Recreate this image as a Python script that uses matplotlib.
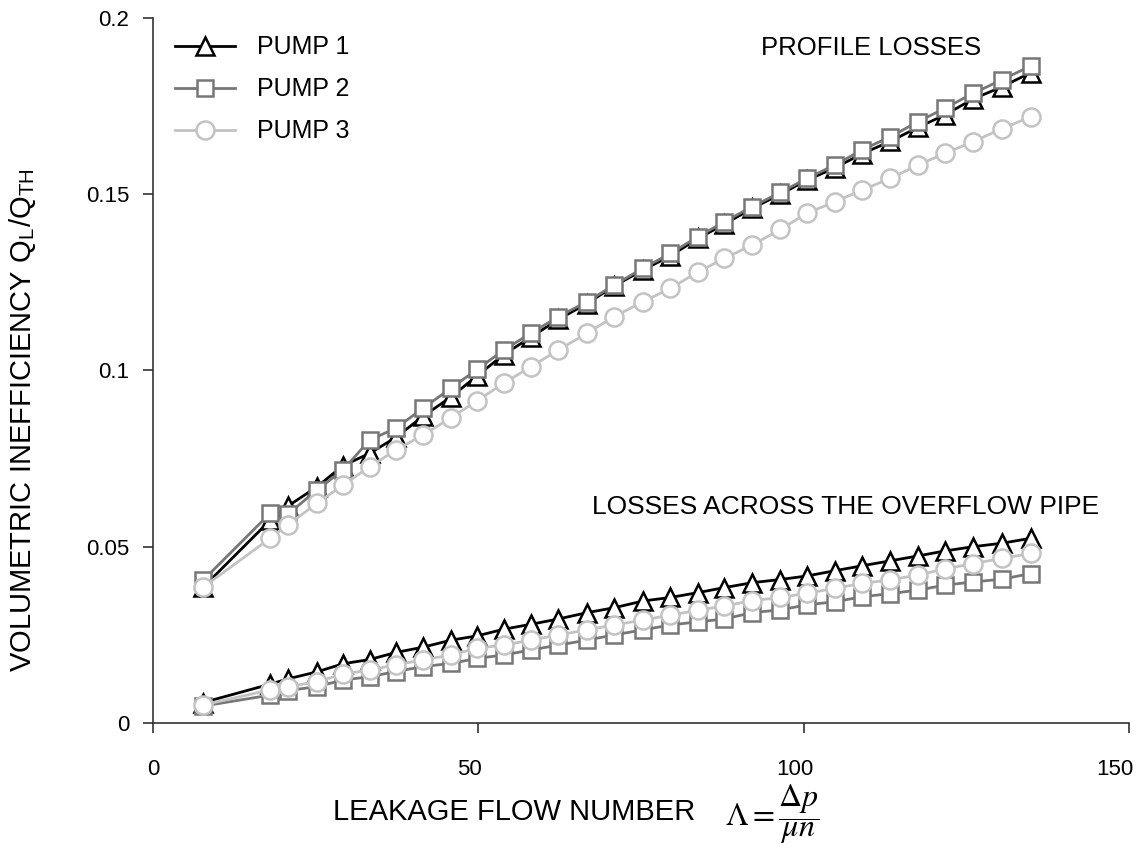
import matplotlib
matplotlib.use("Agg")
import matplotlib.pyplot as plt
from matplotlib.lines import Line2D
from matplotlib.transforms import ScaledTranslation

plt.rcParams["font.family"] = ["Liberation Sans", "DejaVu Sans"]
plt.rcParams["mathtext.fontset"] = "stix"

# leakage flow number (same for every series)
lam = [7.7, 18.0, 20.7, 25.2, 29.2, 33.3, 37.3, 41.5, 45.8, 49.8,
       53.9, 58.1, 62.3, 66.7, 70.9, 75.3, 79.5, 83.8, 87.8, 92.1,
       96.4, 100.5, 104.8, 109.0, 113.3, 117.6, 121.7, 126.0, 130.5, 134.9]

# profile losses
prof_p1 = [0.0385, 0.0575, 0.0615, 0.0670, 0.0730, 0.0765, 0.0810, 0.0870, 0.0925, 0.0985,
           0.1045, 0.1095, 0.1145, 0.1190, 0.1240, 0.1285, 0.1325, 0.1375, 0.1415, 0.1460,
           0.1500, 0.1540, 0.1575, 0.1615, 0.1650, 0.1690, 0.1725, 0.1770, 0.1805, 0.1845]
prof_p2 = [0.0405, 0.0595, 0.0592, 0.0661, 0.0718, 0.0803, 0.0836, 0.0893, 0.0950, 0.1003,
           0.1058, 0.1106, 0.1153, 0.1195, 0.1243, 0.1290, 0.1332, 0.1380, 0.1422, 0.1465,
           0.1505, 0.1545, 0.1583, 0.1626, 0.1663, 0.1706, 0.1744, 0.1786, 0.1825, 0.1864]
prof_p3 = [0.0385, 0.0524, 0.0562, 0.0623, 0.0675, 0.0727, 0.0774, 0.0817, 0.0866, 0.0914,
           0.0964, 0.1011, 0.1058, 0.1106, 0.1153, 0.1195, 0.1233, 0.1280, 0.1318, 0.1356,
           0.1400, 0.1446, 0.1479, 0.1512, 0.1545, 0.1583, 0.1616, 0.1649, 0.1686, 0.1720]

# losses across the overflow pipe
over_p1 = [0.0058, 0.0110, 0.0125, 0.0145, 0.0168, 0.0180, 0.0200, 0.0215, 0.0235, 0.0247,
           0.0266, 0.0280, 0.0295, 0.0313, 0.0327, 0.0346, 0.0356, 0.0370, 0.0384, 0.0398,
           0.0407, 0.0417, 0.0432, 0.0446, 0.0460, 0.0474, 0.0488, 0.0500, 0.0510, 0.0524]
over_p2 = [0.0048, 0.0079, 0.0092, 0.0103, 0.0122, 0.0131, 0.0146, 0.0160, 0.0169, 0.0183,
           0.0193, 0.0207, 0.0221, 0.0235, 0.0250, 0.0264, 0.0278, 0.0287, 0.0295, 0.0313,
           0.0321, 0.0335, 0.0344, 0.0358, 0.0367, 0.0377, 0.0391, 0.0400, 0.0408, 0.0424]
over_p3 = [0.0051, 0.0094, 0.0103, 0.0117, 0.0139, 0.0150, 0.0165, 0.0179, 0.0193, 0.0212,
           0.0221, 0.0235, 0.0250, 0.0264, 0.0278, 0.0292, 0.0306, 0.0320, 0.0332, 0.0347,
           0.0356, 0.0368, 0.0382, 0.0396, 0.0406, 0.0420, 0.0437, 0.0452, 0.0467, 0.0481]

pumps = ["PUMP 1", "PUMP 2", "PUMP 3"]
x_ticks = [0, 50, 100, 150]
y_ticks = [0, 0.05, 0.1, 0.15, 0.2]
y_tick_labels = ["0", "0.05", "0.1", "0.15", "0.2"]

STYLE = {
    "PUMP 1": dict(color="black", marker="^", ms=13, lw=2.0, mew=1.8),
    "PUMP 2": dict(color="#777777", marker="s", ms=12, lw=2.0, mew=1.8),
    "PUMP 3": dict(color="#c3c3c3", marker="o", ms=13, lw=2.0, mew=1.8),
}

fig = plt.figure(figsize=(11.37, 8.57), dpi=100)
ax = fig.add_axes([0.1346, 0.1564, 0.8584, 0.8226])

series = [(prof_p1, over_p1), (prof_p2, over_p2), (prof_p3, over_p3)]
for z, (name, (prof, over)) in enumerate(zip(pumps, series)):
    st = STYLE[name]
    for ys in (prof, over):
        ax.plot(lam, ys, color=st["color"], lw=st["lw"], marker=st["marker"],
                ms=st["ms"], mew=st["mew"], mfc="white", mec=st["color"],
                zorder=3 + z, clip_on=False)

handles = [Line2D([], [], color=STYLE[n]["color"], lw=STYLE[n]["lw"],
                  marker=STYLE[n]["marker"], ms=STYLE[n]["ms"],
                  mew=STYLE[n]["mew"], mfc="white", mec=STYLE[n]["color"])
           for n in pumps]
ax.legend(handles, pumps, loc="upper left", bbox_to_anchor=(0.005, 1.0),
          frameon=False, fontsize=18, handlelength=2.4, labelspacing=0.72,
          handletextpad=0.85, borderaxespad=0.3)

ax.text(110.3, 0.1915, "PROFILE LOSSES", fontsize=18.5, ha="center", va="center")
ax.text(106.5, 0.0613, "LOSSES ACROSS THE OVERFLOW PIPE", fontsize=19,
        ha="center", va="center")

ax.set_xlim(0, 150)
ax.set_ylim(0, 0.2)
ax.set_xticks(x_ticks)
ax.set_xticklabels([str(t) for t in x_ticks])
ax.set_yticks(y_ticks)
ax.set_yticklabels(y_tick_labels)
ax.tick_params(axis="both", direction="out", length=7, width=1.2,
               labelsize=16, color="#333333")
ax.tick_params(axis="x", pad=19)
ax.tick_params(axis="y", pad=10)
# the reference's x labels sit a little left of their ticks
for lbl, dx in zip(ax.get_xticklabels(), [0, -9, -9, -14]):
    lbl.set_transform(lbl.get_transform() + ScaledTranslation(dx / 100, 0, fig.dpi_scale_trans))
for sp in ("top", "right"):
    ax.spines[sp].set_visible(False)
for sp in ("left", "bottom"):
    ax.spines[sp].set_linewidth(1.2)
    ax.spines[sp].set_color("#333333")

fig.text(0.020, 0.510,
         r"VOLUMETRIC INEFFICIENCY Q$_{\mathregular{L}}$/Q$_{\mathregular{TH}}$",
         rotation=90, fontsize=21, ha="center", va="center")
fig.text(0.293, 0.052, "LEAKAGE FLOW NUMBER", fontsize=21, ha="left",
         va="center")
fig.text(0.638, 0.050, r"$\Lambda = \dfrac{\Delta p}{\mu n}$", fontsize=23,
         ha="left", va="center")

fig.savefig("out.png", dpi=100)
